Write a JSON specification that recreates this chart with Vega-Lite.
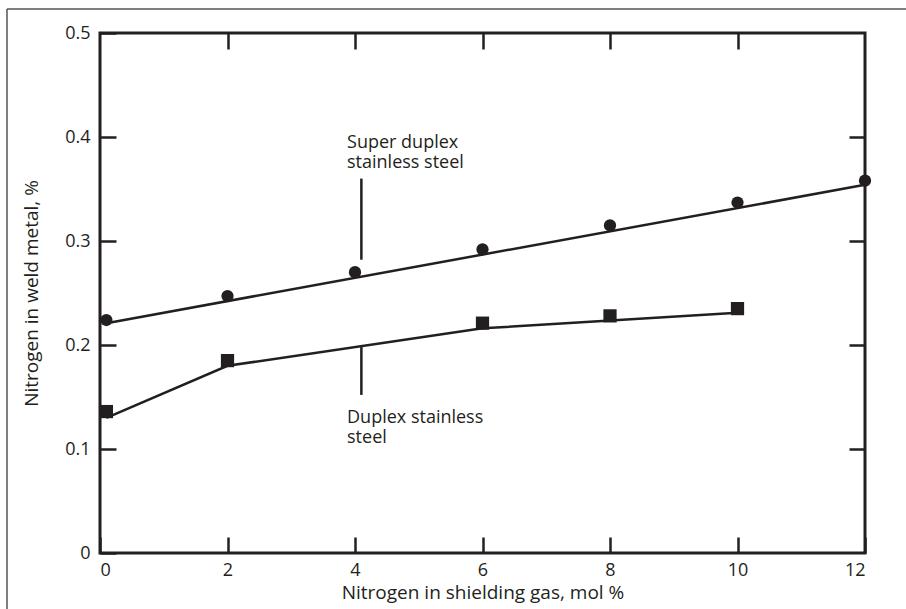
{
  "$schema": "https://vega.github.io/schema/vega-lite/v6.json",
  "width": 765,
  "height": 520,
  "autosize": {"type": "none"},
  "padding": {"left": 100, "top": 33, "right": 41, "bottom": 56},
  "background": "white",
  "config": {
    "view": {"stroke": "#231f20", "strokeWidth": 3},
    "font": "Open Sans",
    "axis": {
      "domain": false,
      "grid": false,
      "tickColor": "#231f20",
      "tickWidth": 2.5,
      "tickSize": -16,
      "labelFont": "Open Sans",
      "labelFontSize": 18,
      "labelColor": "#231f20",
      "titleFont": "Open Sans",
      "titleFontSize": 19,
      "titleFontWeight": "normal",
      "titleColor": "#231f20"
    }
  },
  "datasets": {
    "frame": [{"part": "figure border"}],
    "points": [
      {"x": 0.1, "y": 0.224, "series": "Super duplex stainless steel"},
      {"x": 2, "y": 0.247, "series": "Super duplex stainless steel"},
      {"x": 4, "y": 0.270, "series": "Super duplex stainless steel"},
      {"x": 6, "y": 0.292, "series": "Super duplex stainless steel"},
      {"x": 8, "y": 0.315, "series": "Super duplex stainless steel"},
      {"x": 10, "y": 0.337, "series": "Super duplex stainless steel"},
      {"x": 12, "y": 0.358, "series": "Super duplex stainless steel"},
      {"x": 0.1, "y": 0.136, "series": "Duplex stainless steel"},
      {"x": 2, "y": 0.185, "series": "Duplex stainless steel"},
      {"x": 6, "y": 0.221, "series": "Duplex stainless steel"},
      {"x": 8, "y": 0.228, "series": "Duplex stainless steel"},
      {"x": 10, "y": 0.235, "series": "Duplex stainless steel"}
    ],
    "lines": [
      {"x": 0.1, "y": 0.221, "series": "Super duplex stainless steel"},
      {"x": 12, "y": 0.354, "series": "Super duplex stainless steel"},
      {"x": 0.1, "y": 0.130, "series": "Duplex stainless steel"},
      {"x": 2, "y": 0.180, "series": "Duplex stainless steel"},
      {"x": 6, "y": 0.216, "series": "Duplex stainless steel"},
      {"x": 10, "y": 0.231, "series": "Duplex stainless steel"}
    ],
    "leaders": [
      {"x": 4.1, "y": 0.360, "y2": 0.282, "series": "Super duplex stainless steel"},
      {"x": 4.1, "y": 0.198, "y2": 0.152, "series": "Duplex stainless steel"}
    ],
    "labels": [
      {"x": 3.875, "y": 0.3894, "label": "Super duplex\nstainless steel"},
      {"x": 3.875, "y": 0.125, "label": "Duplex stainless\nsteel"}
    ]
  },
  "layer": [
    {
      "data": {"name": "frame"},
      "mark": {"type": "rule", "color": "#555555", "strokeWidth": 1.5, "clip": false},
      "encoding": {
        "x": {"datum": -1.459, "type": "quantitative", "axis": null},
        "x2": {"datum": 14},
        "y": {"datum": 0.5231, "type": "quantitative", "axis": null}
      }
    },
    {
      "data": {"name": "frame"},
      "mark": {"type": "rule", "color": "#555555", "strokeWidth": 1.5, "clip": false},
      "encoding": {
        "x": {"datum": -1.459, "type": "quantitative", "axis": null},
        "y": {"datum": 0.5231, "type": "quantitative", "axis": null},
        "y2": {"datum": -0.2}
      }
    },
    {
      "data": {"name": "lines"},
      "mark": {"type": "line", "color": "#231f20", "strokeWidth": 2.5},
      "encoding": {
        "x": {
          "field": "x", "type": "quantitative",
          "scale": {"domain": [0, 12], "nice": false, "zero": false},
          "axis": {"orient": "bottom", "values": [0, 2, 4, 6, 8, 10, 12], "labelPadding": 24, "title": "Nitrogen in shielding gas, mol %", "titlePadding": 4}
        },
        "y": {
          "field": "y", "type": "quantitative",
          "scale": {"domain": [0, 0.5], "nice": false, "zero": false},
          "axis": {"orient": "left", "values": [0, 0.1, 0.2, 0.3, 0.4, 0.5], "labelExpr": "datum.value == 0 ? '0' : format(datum.value, '.1f')", "labelPadding": 26, "title": "Nitrogen in weld metal, %", "titlePadding": 23}
        },
        "detail": {"field": "series"}
      }
    },
    {
      "data": {"name": "points"},
      "transform": [{"filter": "datum.series == 'Super duplex stainless steel'"}],
      "mark": {"type": "point", "shape": "circle", "filled": true, "color": "#231f20", "opacity": 1, "size": 150, "clip": false},
      "encoding": {
        "x": {"field": "x", "type": "quantitative", "axis": {"orient": "top", "values": [2, 4, 6, 8, 10], "labels": false, "title": null}},
        "y": {"field": "y", "type": "quantitative", "axis": {"orient": "right", "values": [0.1, 0.2, 0.3, 0.4], "labels": false, "title": null}}
      }
    },
    {
      "data": {"name": "points"},
      "transform": [{"filter": "datum.series == 'Duplex stainless steel'"}],
      "mark": {"type": "point", "shape": "square", "filled": true, "color": "#231f20", "opacity": 1, "size": 175},
      "encoding": {
        "x": {"field": "x", "type": "quantitative", "axis": null},
        "y": {"field": "y", "type": "quantitative", "axis": null}
      }
    },
    {
      "data": {"name": "leaders"},
      "mark": {"type": "rule", "color": "#231f20", "strokeWidth": 2.5},
      "encoding": {
        "x": {"field": "x", "type": "quantitative", "axis": null},
        "y": {"field": "y", "type": "quantitative", "axis": null},
        "y2": {"field": "y2"}
      }
    },
    {
      "data": {"name": "labels"},
      "mark": {"type": "text", "align": "left", "baseline": "alphabetic", "fontSize": 18, "lineHeight": 20, "lineBreak": "\n", "color": "#231f20", "font": "Open Sans"},
      "encoding": {
        "x": {"field": "x", "type": "quantitative", "axis": null},
        "y": {"field": "y", "type": "quantitative", "axis": null},
        "text": {"field": "label"}
      }
    }
  ]
}
